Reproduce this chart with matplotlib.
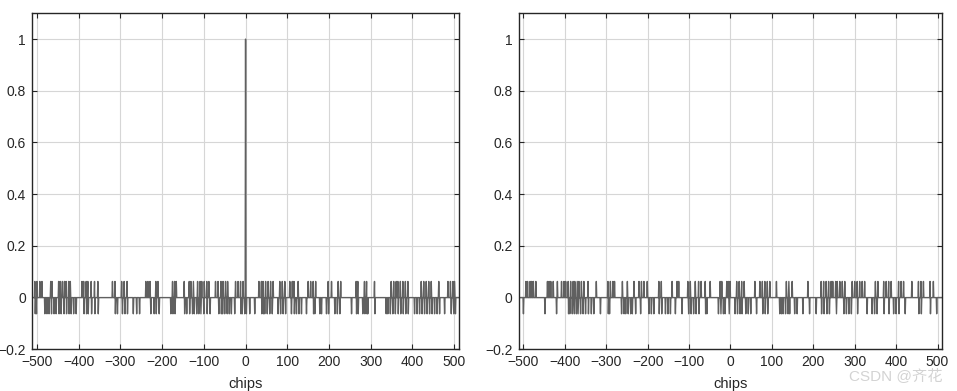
import numpy as np
import matplotlib.pyplot as plt

plt.rcParams['font.family'] = ['Liberation Sans', 'DejaVu Sans']

# correlation levels of a 1023-chip Gold code
N = 1023
HI = 63 / N
LO = -65 / N
MID = -1 / N
PEAK = 1.0

lags = np.arange(-511, 512)

# left: auto-correlation, lags where the value is HI / LO (rest are MID)
left_up = [-505, -500, -493, -488, -467, -464, -448, -444, -439, -434, -430, -424, -420,
           -392, -388, -382, -378, -370, -362, -354, -319, -313, -297, -291, -284,
           -239, -234, -229, -215, -210, -175, -170, -166, -147, -135, -131, -125, -115,
           -109, -105, -99, -93, -88, -72, -66, -59, -54, -48, -43, -24, -18, -12, -6,
           32, 38, 42, 48, 54, 60, 66, 82, 88, 94, 106, 112, 116, 126, 150, 156, 162, 168,
           198, 206, 222, 228,
           265, 269, 285, 290, 309, 349, 355, 361, 365, 371, 377, 383, 389, 421, 427, 433,
           439, 445, 463, 485, 491, 497, 501]
left_down = [-504, -501, -481, -476, -471, -465, -459, -454, -447, -442, -435, -429, -423,
             -418, -412, -406, -387, -381, -377, -369, -361, -353, -312, -307, -295, -289,
             -283, -269, -261,
             -254, -227, -219, -214, -207, -179, -174, -169, -146, -141, -134, -127, -123,
             -117, -112, -107, -100, -92, -85, -64, -58, -55, -50, -44, -39, -34, -26, -11, -8,
             -2, 2, 10, 22, 39, 43, 46, 52, 58, 64, 78, 84, 90, 96, 110, 117, 122, 128, 134,
             146, 163, 166, 178, 182, 194, 199, 214, 220, 226, 254,
             266, 270, 281, 286, 291, 293, 310, 337, 341, 347, 353, 359, 366, 372, 378, 384,
             390, 405, 411, 417, 423, 429, 435, 441, 447, 453, 459, 465, 477, 493, 499, 503]
left_peak = [0]

# right: cross-correlation
right_up = [-494, -490, -484, -480, -476, -470, -442, -438, -434, -428, -418, -408, -402,
            -398, -392, -386, -380, -376, -370, -366, -360, -354, -344, -324, -296, -290,
            -284, -280,
            -261, -249, -233, -221, -215, -209, -201, -173, -167, -141, -129, -125, -103,
            -97, -85, -77, -71, -61, -49, -25, -21, -9,
            -5, -1, 15, 21, 27, 33, 59, 71, 77, 83, 89, 95, 111, 135, 141, 149, 187, 219,
            225, 231, 237, 243, 247,
            254, 258, 264, 270, 276, 294, 300, 306, 312, 318, 324, 350, 356, 370, 376, 382,
            388, 406, 412, 418, 438, 454, 460, 466, 482, 490]
right_down = [-500, -448, -420, -391, -388, -382, -377, -372, -368, -362, -356, -350, -343,
              -336, -330, -314, -295, -292,
              -263, -257, -253, -247, -241, -237, -229, -217, -197, -191, -185, -172, -166,
              -157, -151, -145, -133, -117, -101, -95, -89, -83, -76, -60, -57, -29, -23,
              -17, -13,
              -3, 11, 17, 23, 28, 37, 43, 49, 63, 78, 84, 90, 119, 123, 127, 133, 139, 143,
              155, 161, 175, 191, 207, 220, 226, 233, 239,
              256, 274, 280, 286, 292, 307, 330, 342, 348, 354, 371, 383, 394, 400, 407, 422,
              455, 461, 483, 498]
right_peak = []

x_ticks = np.arange(-500, 501, 100)
y_ticks = [-0.2, 0, 0.2, 0.4, 0.6, 0.8, 1]


def build(up, down, peak):
    y = np.full(len(lags), MID)
    y[np.array(up) + 511] = HI
    y[np.array(down) + 511] = LO
    if peak:
        y[np.array(peak) + 511] = PEAK
    return y


def lab(v):
    s = f"{v:g}"
    return s.replace("-", "\u2212")


fig = plt.figure(figsize=(9.57, 3.91), dpi=100)
ax1 = fig.add_axes([0.0338, 0.1074, 0.4456, 0.8586])
ax2 = fig.add_axes([0.5422, 0.1074, 0.4422, 0.8586])

for ax, (up, down, peak) in zip([ax1, ax2], [(left_up, left_down, left_peak),
                                             (right_up, right_down, right_peak)]):
    ax.plot(lags, build(up, down, peak), color='#606060', lw=1.0)
    ax.set_xlim(-511, 511)
    ax.set_ylim(-0.2, 1.1)
    ax.set_xticks(x_ticks)
    ax.set_xticklabels([lab(v) for v in x_ticks])
    ax.set_yticks(y_ticks)
    ax.set_yticklabels([lab(v) for v in y_ticks])
    ax.grid(True, color='#d6d6d6', lw=0.8)
    ax.set_axisbelow(True)
    ax.tick_params(direction='in', length=3.5, width=0.8, top=True, right=True,
                   labelsize=10, colors='#262626', pad=4.5)
    for s in ax.spines.values():
        s.set_color('#262626')
        s.set_linewidth(1.0)
    ax.set_xlabel('chips', fontsize=10.5, color='#262626', labelpad=5.5)

fig.text(0.985, 0.04, 'CSDN @齐花', ha='right', va='center', fontsize=11,
         color='#c8c8c8', alpha=0.8, family=['Liberation Sans', 'Noto Sans CJK SC'])

fig.savefig('out.png', dpi=100)
